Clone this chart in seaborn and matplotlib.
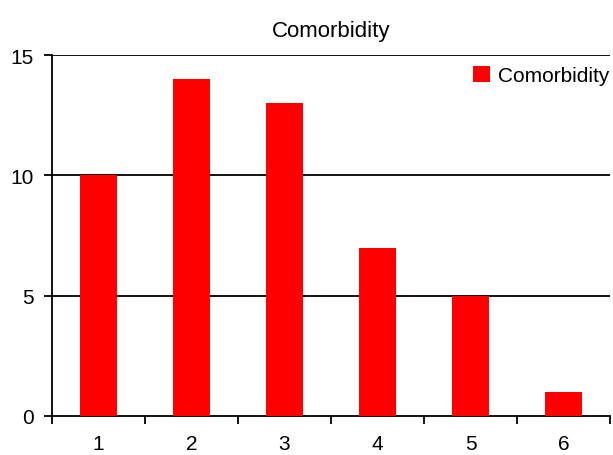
import numpy as np
import pandas as pd
import matplotlib
matplotlib.use("Agg")
import matplotlib.pyplot as plt
import seaborn as sns

# chart data
categories = ["1", "2", "3", "4", "5", "6"]
comorbidity = [10, 14, 13, 7, 5, 1]
y_ticks = [0, 5, 10, 15]

df = pd.DataFrame({"category": categories, "Comorbidity": comorbidity})

sns.set_style("white")
plt.rcParams["font.family"] = ["Liberation Sans", "DejaVu Sans"]
plt.rcParams["text.color"] = "black"
plt.rcParams["xtick.color"] = "black"
plt.rcParams["ytick.color"] = "black"

fig = plt.figure(figsize=(6.13, 4.56), dpi=100)
ax = fig.add_axes([52 / 613, 39 / 456, 558 / 613, 361 / 456])

sns.barplot(data=df, x="category", y="Comorbidity", color="#ff0000", saturation=1,
            width=0.4, ax=ax, label="Comorbidity", zorder=3, linewidth=0)

ax.set_ylim(0, 15)
ax.set_xlim(-0.5, len(categories) - 0.5)
ax.set_yticks(y_ticks)
for yv in y_ticks[1:]:
    ax.axhline(yv, color="black", lw=1.3, zorder=2)

# ticks between categories, labels centered
ax.set_xticks(np.arange(len(categories)))
ax.set_xticklabels(categories)
ax.set_xticks(np.arange(len(categories) + 1) - 0.5, minor=True)
ax.tick_params(axis="x", which="major", bottom=True, length=0, labelsize=15, pad=13)
ax.tick_params(axis="x", which="minor", bottom=True, length=6, width=1.3, direction="out")
ax.tick_params(axis="y", left=True, length=6, width=1.3, direction="out", labelsize=15, pad=7)

for side in ["top", "right"]:
    ax.spines[side].set_visible(False)
for side in ["left", "bottom"]:
    ax.spines[side].set_color("black")
    ax.spines[side].set_linewidth(1.3)

ax.set_xlabel("")
ax.set_ylabel("")
ax.set_title("Comorbidity", fontsize=16, pad=14)
ax.legend(loc="upper right", frameon=False, fontsize=15, handlelength=0.8, handleheight=0.8,
          handletextpad=0.4, borderaxespad=0.0, bbox_to_anchor=(1.014, 0.992))

plt.savefig("out.png", dpi=100)
